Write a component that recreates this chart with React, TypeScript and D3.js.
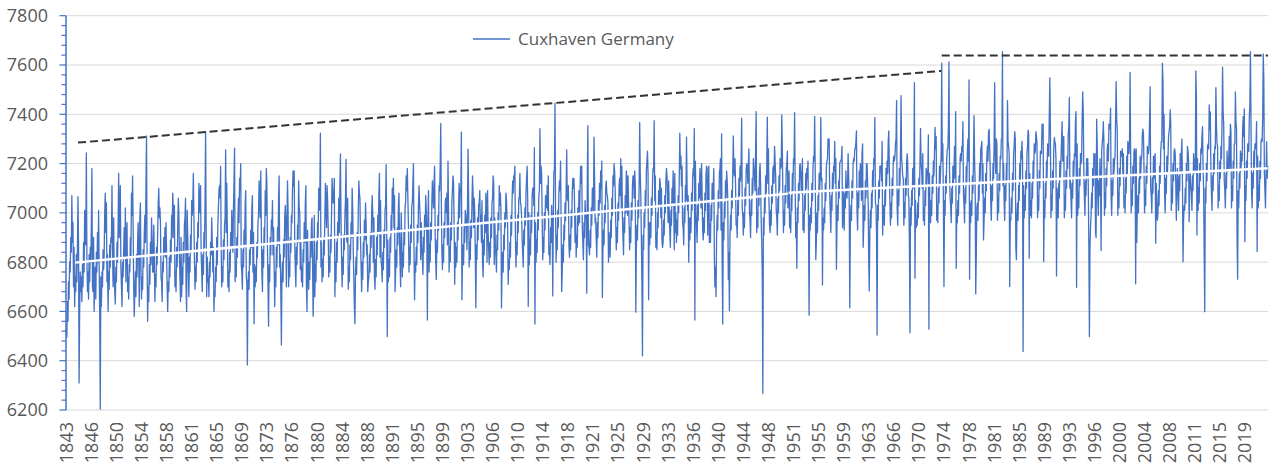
import React from "react";
import * as d3 from "d3";

// Monthly mean sea level, Cuxhaven (mm), January 1843 onwards
const START_YEAR = 1843;

const msl1840s = [
  6530, 6495, 6640, 6560, 6720, 6650, 6800, 6760, 6900, 6840, 7070, 6880,
  6960, 6700, 6860, 6620, 6740, 6680, 6830, 6720, 6860, 7066, 6880, 6310,
  6600, 6760, 6680, 6740, 6640, 6790, 6700, 6880, 6760, 7010, 6920, 6870,
  7243, 6820, 6680, 6760, 6650, 6830, 6720, 6860, 6800, 6950, 7180, 6700,
  6680, 6900, 6600, 6720, 6780, 6650, 6840, 6760, 6920, 6800, 7010, 6790,
  6580, 6204, 6740, 6620, 6760, 6700, 6850, 6770, 6830, 7000, 7080, 6920,
  7040, 6720, 6830, 6600, 6760, 6690, 6870, 6780, 6900, 6880, 7110, 6850,
];
const msl1850s = [
  6700, 6980, 6760, 6680, 6630, 6780, 6720, 6880, 6800, 6940, 7160, 6900,
  7000, 7110, 6780, 6700, 6620, 6800, 6740, 6850, 6940, 6820, 7020, 6720,
  6880, 6960, 6680, 6740, 6650, 6790, 6760, 6900, 6820, 7080, 6990, 7150,
  6940, 6690, 6580, 6680, 6760, 6660, 6830, 6740, 6880, 6960, 6820, 6620,
  6980, 7040, 6780, 6650, 6740, 6690, 6850, 6780, 6920, 6990, 6880, 7110,
  7312, 6800, 6560, 6700, 6640, 6790, 6710, 6880, 6790, 6980, 6900, 6760,
  6760, 6950, 6820, 6640, 6750, 6700, 6860, 6790, 6920, 7040, 7100, 6980,
  7020, 6960, 6740, 6720, 6640, 6800, 6760, 6900, 6830, 6940, 6820, 6960,
  6840, 6700, 6600, 6720, 6680, 6820, 6740, 6890, 6800, 6990, 6900, 7080,
  7020, 6900, 7030, 6700, 6760, 6680, 6860, 6780, 6940, 7060, 7000, 6830,
];
const msl1860s = [
  6740, 6640, 6900, 6660, 6780, 6710, 6880, 6800, 6950, 6980, 7060, 6690,
  6600, 7010, 6900, 6760, 6660, 6820, 6760, 6910, 6840, 7050, 6990, 7020,
  7160, 6990, 6820, 6690, 6780, 6720, 6880, 6800, 6960, 6900, 7120, 7060,
  7000, 7110, 6840, 6760, 6680, 6830, 6750, 6920, 6860, 7040, 7330, 6940,
  6660, 6820, 6720, 6740, 6660, 6800, 6740, 6880, 6830, 6980, 6880, 6760,
  6860, 6600, 6680, 6660, 6780, 6720, 6900, 6790, 6950, 7020, 7090, 7110,
  7060, 7190, 6850, 6700, 6780, 6720, 6890, 6810, 6950, 6980, 7255, 6920,
  7120, 6940, 6700, 6760, 6680, 6840, 6760, 6920, 6860, 7010, 6900, 6840,
  7020, 7130, 7263, 6720, 6800, 6740, 6900, 6820, 6970, 7060, 6960, 7140,
  7090, 7200, 6790, 6760, 6690, 6850, 6780, 6930, 6860, 7030, 7090, 6740,
];
const msl1870s = [
  6720, 6383, 6700, 6760, 6690, 6850, 6790, 6930, 6860, 7020, 7070, 6760,
  6920, 6550, 6790, 6700, 6780, 6720, 6880, 6820, 6960, 6990, 7130, 7040,
  6980, 7170, 6940, 6760, 6680, 6850, 6780, 6940, 6880, 7090, 6990, 7180,
  7120, 6860, 6700, 6540, 6790, 6720, 6900, 6830, 6970, 6930, 7050, 6830,
  6940, 6790, 6620, 6760, 6700, 6860, 6780, 6940, 6870, 7060, 7150, 6780,
  6830, 6680, 6464, 6740, 6800, 6720, 6890, 6820, 6980, 7030, 6950, 6700,
  6980, 7130, 7010, 6700, 6800, 6740, 6900, 6840, 6990, 6960, 7100, 7170,
  7110, 7170, 6880, 6770, 6700, 6860, 6790, 6950, 6880, 7130, 7020, 7000,
  6770, 6880, 6720, 6780, 6700, 6850, 6800, 6960, 6880, 7040, 7110, 6700,
  6600, 6930, 6740, 6690, 6800, 6730, 6890, 6820, 6960, 6980, 6780, 6580,
];
const msl1880s = [
  6700, 6990, 6660, 6790, 6720, 6880, 6810, 6960, 6900, 7100, 7010, 7080,
  7323, 6780, 6880, 6720, 6810, 6740, 6900, 6830, 6980, 7120, 7020, 6940,
  7110, 7050, 6940, 6740, 6820, 6760, 6910, 6840, 6990, 7140, 7090, 7040,
  7040, 7140, 6660, 6800, 6720, 6880, 6800, 6960, 6900, 7060, 6920, 7110,
  7239, 6970, 6820, 6700, 6820, 6750, 6910, 6850, 6990, 7050, 7217, 6900,
  6880, 7060, 6690, 6780, 6720, 6870, 6810, 6960, 6900, 7100, 7010, 6850,
  6730, 6620, 6550, 6760, 6820, 6750, 6920, 6850, 7000, 7130, 7080, 7060,
  6890, 6790, 6680, 6800, 6730, 6880, 6820, 6970, 6890, 7040, 6960, 6830,
  6870, 6680, 6720, 6740, 6830, 6760, 6920, 6860, 7000, 7070, 6990, 6800,
  6980, 6740, 6690, 6810, 6740, 6900, 6830, 6990, 6920, 7080, 7160, 6820,
];
const msl1890s = [
  7050, 6800, 6780, 6720, 6840, 6770, 6930, 6860, 7010, 7030, 7196, 6940,
  6498, 6890, 6720, 6810, 6740, 6900, 6840, 6990, 6920, 7100, 7000, 7140,
  6940, 7070, 6680, 6760, 6850, 6780, 6940, 6870, 7020, 7080, 6900, 6790,
  6700, 7000, 6900, 6740, 6840, 6780, 6930, 6870, 7020, 7050, 7150, 7090,
  7180, 7060, 6950, 6760, 6860, 6790, 6950, 6880, 7030, 7040, 7120, 7200,
  6850, 6647, 6800, 6760, 6860, 6790, 6950, 6880, 7030, 7110, 7040, 6980,
  6810, 6960, 6860, 6820, 6750, 6900, 6840, 6990, 6930, 7070, 7010, 6900,
  6565, 6980, 7090, 6760, 6870, 6800, 6960, 6890, 7040, 7130, 7060, 7020,
  7130, 7190, 6910, 6800, 6730, 6890, 6840, 6990, 6930, 7110, 7090, 7190,
  7363, 7060, 6850, 6770, 6870, 6800, 6960, 6900, 7040, 7060, 7000, 7080,
];
const msl1900s = [
  6870, 7210, 7000, 6760, 6860, 6800, 6960, 6890, 7040, 7100, 7150, 7120,
  6940, 6710, 6880, 6780, 6860, 6800, 6960, 6890, 7030, 7120, 6980, 7100,
  7080, 7327, 6647, 6800, 6870, 6790, 6950, 6880, 7010, 6990, 6960, 6850,
  7030, 7258, 7060, 6780, 6880, 6810, 6970, 6900, 7040, 7150, 7080, 6940,
  7060, 7000, 6820, 6615, 6870, 6810, 6980, 6890, 7030, 7040, 7090, 6960,
  6990, 6880, 7050, 6800, 6740, 6890, 6830, 6990, 6920, 7080, 7030, 6800,
  7090, 6920, 6850, 6790, 6880, 6820, 6980, 6900, 7040, 7060, 7150, 7120,
  6790, 6980, 6860, 6820, 6760, 6910, 6850, 7000, 6930, 7110, 7030, 7080,
  7010, 6615, 6770, 6840, 6760, 6910, 6850, 7000, 6940, 7080, 7050, 6980,
  6960, 6710, 6810, 6770, 6880, 6820, 6990, 6910, 7050, 7130, 7080, 7150,
];
const msl1910s = [
  7150, 7190, 6900, 6780, 6880, 6830, 6990, 6920, 7060, 7060, 7160, 7040,
  7030, 6990, 6900, 6840, 6780, 6930, 6870, 7020, 6950, 7080, 7140, 7190,
  7060, 6620, 7000, 6790, 6890, 6830, 6990, 6920, 7070, 7100, 7100, 7030,
  7265, 6549, 6960, 6800, 6890, 6840, 7000, 6930, 7070, 7090, 7342, 7120,
  7190, 7160, 6980, 6810, 6900, 6840, 7000, 6930, 7070, 7050, 7020, 7110,
  7010, 7150, 6830, 6860, 6790, 6940, 6880, 7030, 6960, 6663, 6990, 7170,
  7170, 7445, 7010, 6800, 6910, 6850, 7010, 6940, 7080, 7130, 7090, 7210,
  6970, 6680, 6760, 6870, 6800, 6950, 6890, 7040, 6970, 7090, 7255, 7060,
  7050, 7110, 6870, 6820, 6910, 6850, 7010, 6940, 7090, 7140, 7100, 7140,
  7050, 6880, 6990, 6820, 6910, 6860, 7020, 6950, 7090, 6960, 7100, 7190,
];
const msl1920s = [
  7120, 7190, 6940, 6880, 6810, 6960, 6900, 7050, 6980, 7000, 6674, 7150,
  7354, 6870, 6860, 6830, 6930, 6860, 7020, 6950, 7100, 7100, 7010, 7307,
  7150, 6960, 6980, 6890, 6820, 6960, 6900, 7050, 6990, 7120, 7040, 7170,
  7100, 7210, 6657, 6840, 6930, 6870, 7030, 6960, 7100, 7130, 7080, 7070,
  7040, 6800, 6920, 6880, 6820, 6970, 6900, 7060, 6990, 7150, 7110, 7200,
  7170, 7090, 6960, 6850, 6940, 6880, 7040, 6970, 7110, 7140, 7070, 7220,
  7020, 7190, 6980, 6900, 6830, 6980, 6920, 7070, 7000, 7170, 7130, 6990,
  7150, 7050, 6950, 6850, 6940, 6880, 7040, 6970, 7110, 7150, 7150, 7060,
  7170, 7120, 6597, 6860, 6950, 6890, 7050, 6980, 7110, 7366, 7160, 7070,
  6900, 6720, 6420, 6910, 6850, 7000, 6940, 7090, 7020, 7170, 7210, 7250,
];
const msl1930s = [
  7160, 6647, 6960, 6870, 6960, 6900, 7060, 6990, 7120, 7180, 7170, 7374,
  7050, 7150, 6860, 6920, 6850, 7000, 6940, 7090, 7030, 7140, 7120, 6980,
  7100, 6890, 6860, 6880, 6970, 6910, 7070, 7000, 7130, 7180, 7150, 7070,
  6960, 7130, 7000, 6930, 6860, 7010, 6950, 7100, 7040, 7170, 7070, 6850,
  7160, 6920, 7000, 6880, 6970, 6910, 7070, 7000, 7140, 7323, 7180, 7230,
  7110, 7190, 6960, 6940, 6870, 7020, 6960, 7110, 7050, 7307, 7110, 7010,
  7070, 6800, 6980, 6890, 6980, 6920, 7080, 7010, 7140, 7180, 7150, 7343,
  6565, 7210, 6990, 6950, 6880, 7030, 6970, 7120, 7060, 7180, 7110, 7020,
  7200, 7080, 6930, 6890, 6980, 6920, 7080, 7010, 7150, 7190, 7180, 6910,
  7080, 7190, 6880, 6950, 6880, 7030, 6970, 7120, 7050, 7100, 7180, 6820,
];
const msl1940s = [
  6700, 6780, 6660, 6900, 6990, 6930, 7090, 7020, 7160, 7180, 7220, 6930,
  7320, 6800, 6549, 6960, 6890, 7040, 6980, 7130, 7060, 7170, 7130, 7060,
  6730, 6840, 6603, 6900, 6990, 6930, 7090, 7020, 7160, 7312, 7170, 7150,
  7220, 7120, 6950, 6970, 6900, 7050, 6990, 7140, 7070, 7190, 7130, 7210,
  7384, 7020, 6990, 6910, 7000, 6940, 7100, 7030, 7170, 7200, 7190, 7120,
  7190, 7260, 7010, 6970, 6900, 7050, 6990, 7140, 7080, 7220, 7180, 7150,
  7090, 7250, 7411, 6920, 7000, 6940, 7100, 7030, 7170, 7200, 7120, 6970,
  6880, 6741, 6268, 6980, 6910, 7060, 7000, 7150, 7080, 7190, 7388, 7120,
  7260, 7050, 6950, 6920, 7010, 6950, 7110, 7040, 7180, 7190, 7120, 7270,
  7210, 7150, 7010, 6980, 6910, 7060, 7000, 7150, 7090, 7220, 7180, 7190,
];
const msl1950s = [
  7397, 7250, 7060, 6920, 7010, 6950, 7110, 7040, 7180, 7200, 7250, 7020,
  7080, 7170, 6940, 6990, 6920, 7070, 7010, 7160, 7090, 7220, 7200, 7407,
  7120, 6900, 6960, 6775, 7020, 6960, 7120, 7050, 7190, 7200, 7150, 7080,
  7150, 7220, 6930, 6990, 6920, 7070, 7010, 7160, 7100, 7180, 7140, 7210,
  6930, 6585, 6990, 6930, 7020, 6960, 7120, 7050, 7180, 7230, 7210, 7391,
  7170, 6810, 6880, 7000, 6920, 7070, 7010, 7160, 7090, 7170, 7387, 7130,
  7140, 6707, 6980, 6930, 7020, 6960, 7120, 7050, 7190, 7210, 7220, 7300,
  7270, 7300, 7070, 7000, 6920, 7070, 7010, 7160, 7090, 7190, 7170, 7290,
  7120, 7220, 6771, 6940, 7030, 6970, 7130, 7060, 7200, 7210, 7210, 7220,
  7270, 6940, 7100, 7010, 6930, 7080, 7020, 7170, 7080, 7060, 7120, 7240,
];
const msl1960s = [
  7150, 7040, 6615, 6940, 7030, 6970, 7130, 7060, 7200, 7220, 7210, 7260,
  7260, 7290, 7333, 7010, 6930, 7080, 7020, 7170, 7100, 7200, 7170, 7050,
  7240, 7280, 6860, 6940, 7030, 6970, 7130, 7060, 7200, 7200, 7120, 7040,
  6800, 6683, 6930, 7010, 6940, 7080, 7020, 7170, 7100, 7220, 7200, 7387,
  7040, 7030, 6920, 6504, 7030, 6970, 7130, 7060, 7190, 7190, 7190, 7130,
  7290, 6910, 7030, 7020, 6950, 7090, 7030, 7180, 7110, 7210, 7160, 7290,
  7333, 7180, 7040, 6950, 7040, 6980, 7140, 7070, 7210, 7230, 7210, 7230,
  7280, 7300, 7455, 7020, 6950, 7090, 7030, 7180, 7110, 7250, 7476, 7220,
  7190, 7150, 7140, 6950, 7040, 6980, 7140, 7070, 7200, 7240, 7200, 7070,
  7060, 6880, 6513, 7020, 6950, 7090, 7030, 7180, 7100, 7210, 7528, 6735,
];
const msl1970s = [
  7050, 6940, 6960, 6950, 7040, 6980, 7140, 7070, 7210, 7343, 7200, 7170,
  7100, 7240, 6970, 7020, 6950, 7090, 7030, 7180, 7110, 7170, 7150, 7316,
  6528, 7160, 6980, 6960, 7050, 6990, 7150, 7080, 7210, 7150, 7240, 7347,
  7260, 7310, 6970, 7030, 6960, 7100, 7040, 7190, 7110, 7170, 7240, 7607,
  7210, 7280, 7040, 6701, 7050, 6990, 7150, 7080, 7220, 7260, 7260, 7350,
  7613, 7170, 7060, 7030, 6960, 7100, 7040, 7190, 7120, 7170, 7270, 7140,
  7411, 6775, 7010, 6960, 7050, 6990, 7150, 7080, 7220, 7240, 7210, 7270,
  7250, 7370, 7080, 7030, 6960, 7100, 7040, 7190, 7120, 7250, 7300, 7210,
  7539, 6731, 7040, 6960, 7050, 6990, 7150, 7080, 7220, 7394, 7210, 7120,
  6671, 6820, 7020, 7040, 6970, 7110, 7050, 7200, 7130, 7260, 7270, 7290,
];
const msl1980s = [
  7080, 7200, 6890, 6970, 7060, 7000, 7160, 7090, 7230, 7270, 7210, 7330,
  7339, 7260, 7180, 7040, 6970, 7110, 7050, 7200, 7140, 7280, 7528, 7230,
  7160, 7300, 7280, 6970, 7060, 7000, 7160, 7090, 7230, 7220, 7300, 7300,
  7654, 7110, 7200, 7040, 6970, 7110, 7050, 7200, 7130, 7455, 7290, 7270,
  7240, 6701, 6980, 6970, 7060, 7000, 7160, 7090, 7240, 7270, 7330, 7300,
  6860, 6810, 6990, 7040, 6970, 7110, 7050, 7200, 7130, 7250, 7220, 7290,
  7220, 6437, 7110, 6980, 7070, 7010, 7170, 7100, 7240, 7270, 7336, 7320,
  6816, 7160, 6990, 7050, 6980, 7120, 7060, 7210, 7140, 7280, 7240, 7250,
  7330, 7310, 7280, 6980, 7070, 7010, 7170, 7100, 7250, 7240, 7240, 7360,
  7300, 7360, 6802, 7050, 6980, 7120, 7060, 7210, 7140, 7280, 7260, 7230,
];
const msl1990s = [
  7390, 7548, 7340, 6980, 7070, 7010, 7170, 7100, 7250, 7305, 7290, 7280,
  7220, 6744, 7100, 7050, 6980, 7120, 7060, 7210, 7140, 7220, 7290, 7370,
  7210, 7290, 7310, 6980, 7070, 7010, 7170, 7100, 7230, 7180, 7320, 7350,
  7468, 7100, 7130, 7050, 6980, 7120, 7060, 7210, 7150, 7240, 7230, 7370,
  7411, 6698, 7280, 6990, 7080, 7020, 7180, 7110, 7240, 7200, 7210, 7380,
  7491, 7410, 7170, 7060, 6990, 7130, 7070, 7220, 7150, 7220, 7110, 6870,
  6498, 6850, 6940, 6990, 7080, 7020, 7180, 7110, 7240, 7200, 7240, 6920,
  6900, 7380, 7280, 7060, 6990, 7130, 7070, 7220, 7130, 6847, 7250, 7280,
  7310, 7370, 7290, 6990, 7080, 7020, 7180, 7110, 7260, 7280, 7210, 7360,
  7340, 7350, 7425, 7060, 6990, 7130, 7070, 7220, 7160, 7210, 7230, 7380,
];
const msl2000s = [
  7532, 7380, 7330, 6990, 7080, 7020, 7180, 7110, 7250, 7230, 7240, 7260,
  7160, 7240, 7020, 7070, 7000, 7140, 7080, 7230, 7160, 7290, 7270, 7240,
  7290, 7570, 7240, 7000, 7090, 7030, 7190, 7120, 7250, 7260, 7240, 6712,
  7260, 6880, 7020, 7070, 7000, 7140, 7080, 7230, 7140, 7210, 7230, 7320,
  7340, 7320, 7180, 7000, 7090, 7030, 7190, 7120, 7270, 7240, 7240, 7270,
  7380, 7512, 7100, 7070, 7000, 7140, 7080, 7230, 7140, 7220, 7240, 6877,
  7120, 7030, 6970, 7000, 7090, 7030, 7190, 7120, 7250, 7290, 7290, 7607,
  7540, 7260, 7400, 7070, 7000, 7140, 7080, 7230, 7160, 7220, 7310, 7330,
  7350, 7418, 7360, 7010, 7100, 7040, 7200, 7130, 7250, 7260, 7240, 7120,
  6970, 7110, 7180, 7080, 7010, 7150, 7090, 7240, 7160, 7240, 7300, 7120,
];
const msl2010s = [
  6802, 6970, 7030, 7010, 7100, 7040, 7200, 7130, 7270, 7250, 7210, 6964,
  7110, 7160, 7110, 7080, 7010, 7150, 7090, 7240, 7160, 7220, 7170, 7576,
  7470, 6910, 7220, 7010, 7100, 7040, 7200, 7130, 7260, 7240, 7310, 7350,
  7180, 7090, 6830, 6599, 7100, 7040, 7200, 7130, 7270, 7280, 7260, 7438,
  7340, 7410, 7180, 7080, 7010, 7150, 7090, 7240, 7160, 7270, 7260, 7508,
  7360, 7280, 7270, 7020, 7110, 7050, 7210, 7140, 7270, 7220, 7370, 7591,
  7410, 7360, 7130, 7090, 7020, 7160, 7100, 7250, 7170, 7170, 7220, 7310,
  7180, 7360, 7330, 7020, 7110, 7050, 7210, 7140, 7280, 7280, 7491, 7370,
  7340, 6900, 6731, 7090, 7020, 7160, 7100, 7250, 7170, 7240, 7210, 7340,
  7390, 7310, 7422, 6883, 7110, 7050, 7210, 7140, 7280, 7280, 7250, 7390,
];
const msl2020s = [
  7440, 7654, 7370, 7090, 7020, 7160, 7100, 7250, 7180, 7280, 7260, 7270,
  7370, 6843, 7230, 7020, 7110, 7050, 7210, 7140, 7290, 7300, 7290, 7390,
  7645, 7540, 7160, 7090, 7020, 7160, 7289, 7140, 7190,
];

const monthlyMSL = [
  ...msl1840s, ...msl1850s, ...msl1860s, ...msl1870s, ...msl1880s, ...msl1890s,
  ...msl1900s, ...msl1910s, ...msl1920s, ...msl1930s, ...msl1940s, ...msl1950s,
  ...msl1960s, ...msl1970s, ...msl1980s, ...msl1990s, ...msl2000s, ...msl2010s,
  ...msl2020s,
];

const categories = monthlyMSL.map(
  (_, i) => `${START_YEAR + Math.floor(i / 12)}-${String((i % 12) + 1).padStart(2, "0")}`
);

// Axis labels (one every 45 months)
const LABEL_STEP = 45;
const xTickLabels = [
  "1843", "1846", "1850", "1854", "1858", "1861", "1865", "1869", "1873", "1876",
  "1880", "1884", "1888", "1891", "1895", "1899", "1903", "1906", "1910", "1914",
  "1918", "1921", "1925", "1929", "1933", "1936", "1940", "1944", "1948", "1951",
  "1955", "1959", "1963", "1966", "1970", "1974", "1978", "1981", "1985", "1989",
  "1993", "1996", "2000", "2004", "2008", "2011", "2015", "2019",
];
const yTickValues = [6200, 6400, 6600, 6800, 7000, 7200, 7400, 7600, 7800];
const Y_MIN = 6200;
const Y_MAX = 7800;
const Y_MINOR_STEP = 40;

// Linear trend lines (white), two periods
const trendStart = ["1844-05", "1951-01"];
const trendEnd = ["1950-12", "2022-09"];
const trendStartValue = [6798, 7082];
const trendEndValue = [7078, 7181];

// Dashed envelope of the highest values
const envStart = ["1844-10", "1973-12"];
const envEnd = ["1973-11", "2022-09"];
const envStartValue = [7285, 7639];
const envEndValue = [7576, 7639];

const seriesName = "Cuxhaven Germany";

const W = 1272;
const H = 468;
const M = { left: 66, right: 1268, top: 15.7, bottom: 410 };
const BLUE = "#4472C4";
const FONT = "'Open Sans', 'Liberation Sans', Arial, sans-serif";

export default function App() {
  const x = d3.scaleBand<string>().domain(categories).range([M.left, M.right]).padding(0);
  const cx = (c: string) => (x(c) ?? 0) + x.bandwidth() / 2;
  const y = d3.scaleLinear().domain([Y_MIN, Y_MAX]).range([M.bottom, M.top]);

  const line = d3
    .line<number>()
    .x((_, i) => cx(categories[i]))
    .y((d) => y(d));
  const path = line(monthlyMSL) ?? "";

  const minorTicks = d3.range(Y_MIN, Y_MAX + 1, Y_MINOR_STEP);

  return (
    <svg
      width={W}
      height={H}
      style={{ position: "absolute", left: 0, top: 0, background: "#fff" }}
      fontFamily={FONT}
    >
      <rect x={0} y={0} width={W} height={H} fill="#fff" />
      {yTickValues.map((v) => (
        <line key={v} x1={M.left} x2={M.right} y1={y(v)} y2={y(v)} stroke="#d9d9d9" strokeWidth={1} />
      ))}
      {yTickValues.map((v) => (
        <text key={"l" + v} x={48} y={y(v)} dy="0.36em" textAnchor="end" fontSize={18} fill="#595959">
          {v}
        </text>
      ))}
      {xTickLabels.map((lab, k) => {
        const px = cx(categories[k * LABEL_STEP]);
        return (
          <text
            key={"x" + lab}
            transform={`translate(${px},${422}) rotate(-90)`}
            dy="0.36em"
            textAnchor="end"
            fontSize={18}
            fill="#595959"
          >
            {lab}
          </text>
        );
      })}
      <path d={path} fill="none" stroke={BLUE} strokeWidth={1.3} strokeLinejoin="round" />
      {trendStart.map((s, k) => (
        <line
          key={"t" + k}
          x1={cx(s)}
          x2={cx(trendEnd[k])}
          y1={y(trendStartValue[k])}
          y2={y(trendEndValue[k])}
          stroke="#fff"
          strokeWidth={2.5}
        />
      ))}
      {envStart.map((s, k) => (
        <line
          key={"e" + k}
          x1={cx(s)}
          x2={k === envStart.length - 1 ? M.right : cx(envEnd[k])}
          y1={y(envStartValue[k])}
          y2={y(envEndValue[k])}
          stroke="#333"
          strokeWidth={2}
          strokeDasharray="8 4"
        />
      ))}
      <line x1={M.left} x2={M.left} y1={M.top} y2={M.bottom} stroke={BLUE} strokeWidth={1.5} />
      {minorTicks.map((v) => (
        <line
          key={"m" + v}
          x1={yTickValues.includes(v) ? M.left - 6.5 : M.left - 4.5}
          x2={M.left}
          y1={y(v)}
          y2={y(v)}
          stroke={BLUE}
          strokeWidth={1.2}
        />
      ))}
      <line x1={473} x2={510} y1={39} y2={39} stroke={BLUE} strokeWidth={1.3} />
      <text x={518} y={39} dy="0.36em" fontSize={17} fill="#595959">
        {seriesName}
      </text>
    </svg>
  );
}
